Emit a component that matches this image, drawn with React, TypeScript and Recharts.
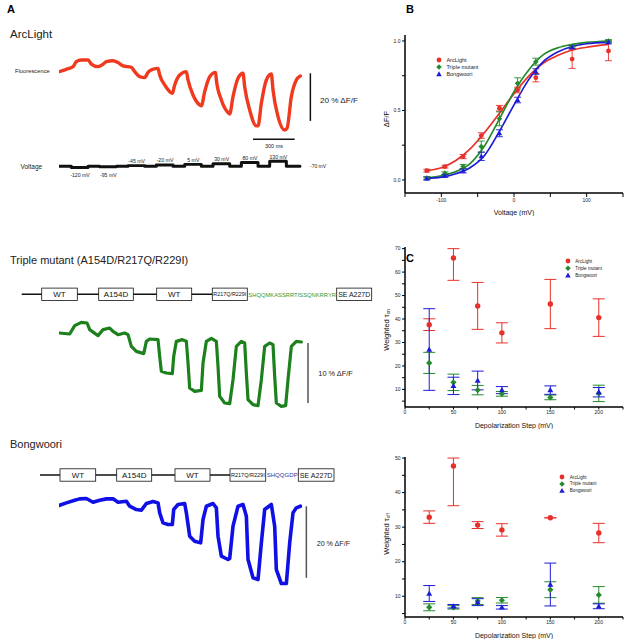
import React from 'react';
import {
  ComposedChart,
  ErrorBar,
  Label,
  Legend,
  Line,
  LineChart,
  ReferenceLine,
  Scatter,
  ScatterChart,
  XAxis,
  YAxis,
} from 'recharts';

const FONT = '"Liberation Sans", Arial, Helvetica, sans-serif';
const RED = '#e8302a';
const GREEN = '#258a2c';
const BLUE = '#1c1cd8';
const TRACE_RED = '#f03a1f';
const TRACE_GREEN = '#1c801c';
const TRACE_BLUE = '#0f0fe6';

// ---- A: optical traces (ms from sweep start, % dF/F relative to start)
const arcTraceMs = [0, 53, 101, 125, 161, 209, 233, 281, 317, 341, 389, 425, 461, 521, 545, 581, 617, 641, 677, 713, 725, 761, 797, 816, 833, 869, 917, 929, 965, 1013, 1025, 1049, 1085, 1128, 1133, 1169, 1217, 1229, 1253, 1289, 1325, 1337, 1373, 1421, 1433, 1457, 1493, 1529, 1541, 1577, 1625, 1642, 1673, 1709, 1738];
const arcTraceDff = [0, 1.0, 2.1, 4.2, 4.9, 4.9, 3.2, 2.1, 3.1, 4.2, 4.6, 3.8, 2.4, 1.8, 0, -2.1, -2.5, -0.3, 1.0, 1.4, -1.4, -5.6, -8.4, -9.1, -5.6, -1.4, 0, -3.5, -9.8, -14.0, -14.4, -8.4, -2.1, -0.3, -3.5, -11.9, -17.2, -17.8, -10.5, -2.8, -0.7, -6.3, -16.1, -22.8, -22.8, -13.3, -3.5, -1.0, -7.7, -18.9, -24.5, -23.8, -10.5, -3.5, -1.8];

const tripleTraceMs = [0, 77, 113, 161, 202, 221, 281, 317, 365, 389, 425, 473, 497, 521, 557, 610, 629, 653, 713, 725, 737, 773, 816, 826, 845, 888, 917, 929, 941, 977, 1025, 1037, 1061, 1097, 1133, 1145, 1157, 1193, 1229, 1253, 1277, 1313, 1337, 1349, 1361, 1397, 1433, 1457, 1481, 1517, 1541, 1553, 1565, 1601, 1632, 1649, 1673, 1709, 1745];
const tripleTraceDff = [0, -0.17, 1.22, 1.78, 1.67, 0.56, -0.44, 0.56, 0.83, 0.28, -0.28, 0, -0.28, -2.22, -3.06, -3.44, -1.39, -1.0, -1.11, -3.89, -6.39, -6.67, -6.78, -3.89, -1.39, -1.11, -1.39, -5.0, -9.17, -9.72, -9.56, -5.0, -1.39, -0.89, -1.39, -5.56, -10.56, -11.67, -11.78, -7.78, -2.22, -1.39, -1.67, -6.67, -11.11, -11.94, -12.11, -7.78, -2.22, -1.67, -1.94, -7.22, -11.67, -12.22, -12.11, -7.78, -2.22, -1.39, -1.5];

const bongTraceMs = [0, 53, 113, 149, 197, 245, 293, 341, 389, 425, 485, 509, 557, 593, 629, 677, 713, 725, 749, 785, 816, 826, 857, 905, 917, 941, 977, 1020, 1037, 1061, 1109, 1133, 1145, 1169, 1217, 1229, 1253, 1289, 1325, 1349, 1361, 1397, 1433, 1457, 1481, 1529, 1553, 1565, 1601, 1637, 1661, 1685, 1709, 1738];
const bongTraceDff = [0, 0.74, 1.49, 1.86, 1.96, 0.93, 1.49, 1.86, 1.86, 0.93, 1.21, -0.19, -1.12, -1.3, 0.56, 1.12, 0.74, -2.05, -4.84, -5.31, -5.31, -1.12, 0.28, 0.56, -2.05, -8.57, -9.96, -10.43, -3.91, -0.19, 0.56, -0.65, -8.57, -14.15, -15.08, -14.8, -5.77, -0.19, 0.28, -2.98, -15.08, -20.2, -20.67, -10.43, -1.12, 0.28, -5.77, -17.88, -21.79, -21.79, -10.43, -2.05, -0.65, -0.19];

// voltage protocol
const holdingMv = -70;
const stepMv = [-120, -95, -45, -20, 5, 30, 80, 130];
const stepStartMs = [89, 293, 497, 701, 905, 1109, 1313, 1517];
const stepWidthMs = 120;
const sweepEndMs = 1735;

// ---- B: steady-state dF/F vs voltage
const bVoltages = [-120, -95, -70, -45, -20, 5, 30, 80, 130];
const arcDff = [0.067, 0.096, 0.168, 0.319, 0.516, 0.647, 0.736, 0.87, 0.928];
const arcDffErr = [0.01, 0.01, 0.015, 0.02, 0.02, 0.02, 0.03, 0.067, 0.07];
const tripleDff = [0.014, 0.048, 0.096, 0.24, 0.44, 0.695, 0.851, 0.96, 1.0];
const tripleDffErr = [0.01, 0.01, 0.015, 0.04, 0.05, 0.04, 0.025, 0.01, 0.01];
const bongDff = [0.01, 0.03, 0.065, 0.17, 0.336, 0.575, 0.78, 0.955, 0.99];
const bongDffErr = [0.01, 0.01, 0.015, 0.03, 0.025, 0.02, 0.02, 0.01, 0.01];

const fitVoltages = [-120, -100, -80, -60, -40, -20, 0, 20, 40, 60, 80, 100, 130];
const arcFit = [0.067, 0.088, 0.14, 0.225, 0.345, 0.48, 0.62, 0.745, 0.84, 0.895, 0.935, 0.955, 0.975];
const tripleFit = [0.015, 0.03, 0.06, 0.12, 0.25, 0.44, 0.635, 0.79, 0.9, 0.95, 0.975, 0.99, 1.0];
const bongFit = [0.01, 0.02, 0.045, 0.09, 0.18, 0.35, 0.54, 0.72, 0.85, 0.92, 0.96, 0.98, 0.99];

// ---- C: weighted time constants vs depolarization step
const depolSteps = [25, 50, 75, 100, 150, 200];
const arcTauOn = [37.6, 66, 45.6, 34.1, 46.4, 40.6];
const arcTauOnErrLo = [2.5, 9.5, 10, 4.3, 10.5, 8];
const arcTauOnErrHi = [2.5, 4, 10, 4.3, 10.5, 8];
const tripleTauOn = [21.3, 13, 9.7, 8.1, 6.6, 8.3];
const tripleTauOnErr = [4.5, 3.5, 2, 1, 1, 3.5];
const bongTauOn = [27, 11.5, 13.8, 9.7, 9.7, 8.8];
const bongTauOnErr = [17.4, 3.7, 4, 1.5, 1.8, 2];

const arcTauOff = [32.9, 47.7, 30.6, 29.2, 32.7, 28.3];
const arcTauOffErrLo = [1.8, 11.5, 1, 1.8, 0, 2.8];
const arcTauOffErrHi = [1.8, 2.3, 1, 1.8, 0, 2.8];
const tripleTauOff = [6.8, 6.8, 8.6, 8.85, 11.9, 10.4];
const tripleTauOffErr = [1, 0.5, 1, 0.8, 2.3, 2.4];
const bongTauOff = [10.8, 7.1, 8.3, 6.8, 13.4, 7.1];
const bongTauOffErr = [2.3, 0.5, 1, 0.5, 6.2, 0.7];

const seriesNames = ['ArcLight', 'Triple mutant', 'Bongwoori'];
const constructDomains = ['WT', 'A154D', 'WT', 'R217Q/R229I'];
const tripleLinker = 'SHQQMKASSRRTISSQNKRRYR';
const bongLinker = 'SHQQGDP';
const fpDomain = 'SE A227D';

// ---- layout for the traces
const MS_PER_PX = 7.2;
const TRACE_LEFT = 59.3;
const T_DOMAIN: [number, number] = [0, 1830];
const TRACE_W = (T_DOMAIN[1] - T_DOMAIN[0]) / MS_PER_PX;
const msToX = (t: number) => TRACE_LEFT + t / MS_PER_PX;

const zip = (ts: number[], fs: number[]) => ts.map((t, i) => ({ t, f: fs[i] }));

const voltageData = (() => {
  const pts = [{ t: 0, f: holdingMv }];
  stepMv.forEach((v, i) => {
    pts.push({ t: stepStartMs[i], f: v });
    pts.push({ t: stepStartMs[i] + stepWidthMs, f: holdingMv });
  });
  pts.push({ t: sweepEndMs, f: holdingMv });
  return pts;
})();

function TraceChart({ data, color, y0, pxPerUnit, lo, hi, width = 3.2, curve = 'linear', bars = [] }: any) {
  const top = y0 - hi * pxPerUnit;
  const height = (hi - lo) * pxPerUnit;
  return (
    <div style={{ position: 'absolute', left: TRACE_LEFT, top }}>
      <LineChart width={TRACE_W} height={height} data={data} margin={{ top: 0, right: 0, bottom: 0, left: 0 }}>
        <XAxis type="number" dataKey="t" domain={T_DOMAIN} hide />
        <YAxis type="number" domain={[lo, hi]} hide />
        <Line
          dataKey="f"
          type={curve}
          stroke={color}
          strokeWidth={width}
          strokeLinejoin="round"
          strokeLinecap="round"
          dot={false}
          isAnimationActive={false}
        />
        {bars.map((b: any, i: number) => (
          <ReferenceLine key={i} segment={b.seg} stroke={b.color} strokeWidth={1.5} ifOverflow="visible" />
        ))}
      </LineChart>
    </div>
  );
}

// ---- markers
const circleShape = (color: string, r: number) => (p: any) => <circle cx={p.cx} cy={p.cy} r={r} fill={color} />;
const diamondShape = (color: string, r: number) => (p: any) => (
  <polygon points={`${p.cx},${p.cy - r} ${p.cx + r},${p.cy} ${p.cx},${p.cy + r} ${p.cx - r},${p.cy}`} fill={color} />
);
const triangleShape = (color: string, r: number) => (p: any) => (
  <polygon
    points={`${p.cx},${p.cy - r} ${p.cx + r * 0.95},${p.cy + r * 0.7} ${p.cx - r * 0.95},${p.cy + r * 0.7}`}
    fill={color}
  />
);

function LegendSvg({ size, gap, dx, r }: any) {
  const shapes = [circleShape(RED, r), diamondShape(GREEN, r * 1.15), triangleShape(BLUE, r * 1.2)];
  return (
    <svg width={60} height={gap * 3 + 2} style={{ overflow: 'visible' }}>
      {seriesNames.map((name, i) => (
        <g key={name}>
          {shapes[i]({ cx: 4, cy: 4 + i * gap })}
          <text x={4 + dx} y={4 + i * gap} dominantBaseline="central" fontSize={size} fontFamily={FONT} fill="#222">
            {name}
          </text>
        </g>
      ))}
    </svg>
  );
}

const xTitle = (text: string) => (props: any) => {
  const { x, y, width, height } = props.viewBox;
  return (
    <text x={x + width / 2} y={y + height - 1.5} textAnchor="middle" fontSize={7} fontFamily={FONT} fill="#111">
      {text}
    </text>
  );
};

const yTitle = (text: string, sub: string, dy: number) => (props: any) => {
  const { x, y, height } = props.viewBox;
  const cx = x + 21.5;
  const cy = y + height / 2 + dy;
  return (
    <text
      transform={`translate(${cx},${cy}) rotate(-90)`}
      textAnchor="middle"
      dominantBaseline="central"
      fontSize={7.5}
      fontFamily={FONT}
      fill="#111"
    >
      {text}
      {sub ? (
        <tspan fontSize={4.5} dy={1.8}>
          {sub}
        </tspan>
      ) : null}
    </text>
  );
};

const axisProps = {
  axisLine: { stroke: '#000', strokeWidth: 1.5 },
  tickLine: { stroke: '#000', strokeWidth: 1 },
  tick: { fontSize: 5, fill: '#222', fontFamily: FONT },
};

const bPoints = (vals: number[], errs: number[]) => bVoltages.map((v, i) => ({ v, f: vals[i], e: errs[i] }));
const bFit = (vals: number[]) => fitVoltages.map((v, i) => ({ v, f: vals[i] }));

function PanelB() {
  return (
    <div style={{ position: 'absolute', left: 360, top: 20 }}>
      <ComposedChart width={264} height={196} margin={{ top: 15, right: 1, bottom: 0, left: 5 }}>
        <XAxis
          type="number"
          dataKey="v"
          domain={[-150, 150]}
          ticks={[-150, -100, -50, 0, 50, 100, 150]}
          tickFormatter={(v: number) => (v % 100 === 0 ? String(v) : '')}
          height={23}
          tickSize={4}
          tickMargin={1.5}
          {...axisProps}
        >
          <Label content={xTitle('Voltage (mV)')} />
        </XAxis>
        <YAxis
          type="number"
          dataKey="f"
          domain={[-0.094, 1.043]}
          ticks={[0, 0.25, 0.5, 0.75, 1]}
          tickFormatter={(v: number) => (v === 0 || v === 0.5 || v === 1 ? v.toFixed(1) : '')}
          width={40}
          tickSize={3}
          tickMargin={1.5}
          {...axisProps}
        >
          <Label content={yTitle('ΔF/F', '', 5)} />
        </YAxis>
        <Line data={bFit(arcFit)} dataKey="f" type="monotone" stroke={RED} strokeWidth={1.7} dot={false} isAnimationActive={false} />
        <Line data={bFit(tripleFit)} dataKey="f" type="monotone" stroke={GREEN} strokeWidth={1.7} dot={false} isAnimationActive={false} />
        <Line data={bFit(bongFit)} dataKey="f" type="monotone" stroke={BLUE} strokeWidth={1.7} dot={false} isAnimationActive={false} />
        <Scatter data={bPoints(arcDff, arcDffErr)} dataKey="f" fill={RED} shape={circleShape(RED, 2.4)} isAnimationActive={false}>
          <ErrorBar dataKey="e" direction="y" width={3.5} stroke={RED} strokeWidth={0.9} />
        </Scatter>
        <Scatter data={bPoints(tripleDff, tripleDffErr)} dataKey="f" fill={GREEN} shape={diamondShape(GREEN, 2.8)} isAnimationActive={false}>
          <ErrorBar dataKey="e" direction="y" width={3.5} stroke={GREEN} strokeWidth={0.9} />
        </Scatter>
        <Scatter data={bPoints(bongDff, bongDffErr)} dataKey="f" fill={BLUE} shape={triangleShape(BLUE, 2.8)} isAnimationActive={false}>
          <ErrorBar dataKey="e" direction="y" width={3.5} stroke={BLUE} strokeWidth={0.9} />
        </Scatter>
        <Legend
          layout="vertical"
          align="center"
          verticalAlign="middle"
          wrapperStyle={{ left: 75.3, top: 36, width: 60, height: 24 }}
          content={() => <LegendSvg size={5.5} gap={7.1} dx={7.4} r={2.4} />}
        />
      </ComposedChart>
    </div>
  );
}

const cPoints = (vals: number[], lo: number[], hi?: number[]) =>
  depolSteps.map((x, i) => ({ x, y: vals[i], e: hi ? [lo[i], hi[i]] : lo[i] }));

function TauChart({ top, yDomain, yTicks, sub, titleDy, legend, arc, triple, bong }: any) {
  return (
    <div style={{ position: 'absolute', left: 360, top }}>
      <ScatterChart width={264} height={197} margin={{ top: 15, right: 1, bottom: 0, left: 5 }}>
        <XAxis
          type="number"
          dataKey="x"
          domain={[0, 225]}
          ticks={[0, 25, 50, 75, 100, 125, 150, 175, 200, 225]}
          tickFormatter={(v: number) => (v % 50 === 0 && v <= 200 ? String(v) : '')}
          height={22}
          tickSize={2.5}
          tickMargin={1}
          {...axisProps}
        >
          <Label content={xTitle('Depolarization Step (mV)')} />
        </XAxis>
        <YAxis
          type="number"
          dataKey="y"
          domain={yDomain}
          ticks={yTicks}
          tickFormatter={(v: number) => (v % 10 === 0 ? String(v) : '')}
          width={40}
          tickSize={3}
          tickMargin={1.5}
          {...axisProps}
        >
          <Label content={yTitle('Weighted τ', sub, titleDy)} />
        </YAxis>
        <Scatter data={arc} fill={RED} shape={circleShape(RED, 2.7)} isAnimationActive={false}>
          <ErrorBar dataKey="e" direction="y" width={6} stroke={RED} strokeWidth={1} />
        </Scatter>
        <Scatter data={triple} fill={GREEN} shape={diamondShape(GREEN, 3.1)} isAnimationActive={false}>
          <ErrorBar dataKey="e" direction="y" width={6} stroke={GREEN} strokeWidth={1} />
        </Scatter>
        <Scatter data={bong} fill={BLUE} shape={triangleShape(BLUE, 3.1)} isAnimationActive={false}>
          <ErrorBar dataKey="e" direction="y" width={6} stroke={BLUE} strokeWidth={1} />
        </Scatter>
        <Legend
          layout="vertical"
          align="center"
          verticalAlign="middle"
          wrapperStyle={{ left: legend.left, top: legend.top, width: 60, height: 24 }}
          content={() => <LegendSvg size={4.6} gap={legend.gap} dx={legend.dx} r={2.4} />}
        />
      </ScatterChart>
    </div>
  );
}

function Construct({ lineY, lineX0, boxes, linker, linkerColor, linkerX, fpBox }: any) {
  const h = 12.4;
  const by = lineY - h / 2;
  return (
    <g fontFamily={FONT}>
      <line x1={lineX0} x2={boxes[3][0]} y1={lineY} y2={lineY} stroke="#111" strokeWidth={1.5} />
      {constructDomains.map((name, i) => {
        const [x1, x2] = boxes[i];
        const small = name.length > 6;
        return (
          <g key={i}>
            <rect x={x1} y={by} width={x2 - x1} height={h} fill="#fff" stroke="#111" strokeWidth={0.8} />
            <text
              x={(x1 + x2) / 2}
              y={lineY + (small ? 2 : 2.9)}
              textAnchor="middle"
              fontSize={small ? 5.4 : 8}
              fill="#111"
              textLength={small ? x2 - x1 - 2 : undefined}
              lengthAdjust="spacingAndGlyphs"
            >
              {name}
            </text>
          </g>
        );
      })}
      <text
        x={linkerX[0]}
        y={lineY + 2.2}
        fontSize={6}
        fill={linkerColor}
        textLength={linkerX[1] - linkerX[0]}
        lengthAdjust="spacingAndGlyphs"
      >
        {linker}
      </text>
      <rect x={fpBox[0]} y={by} width={fpBox[1] - fpBox[0]} height={h} fill="#fff" stroke="#111" strokeWidth={0.8} />
      <text
        x={(fpBox[0] + fpBox[1]) / 2}
        y={lineY + 2.5}
        textAnchor="middle"
        fontSize={7}
        fill="#111"
        textLength={fpBox[1] - fpBox[0] - 3}
        lengthAdjust="spacingAndGlyphs"
      >
        {fpDomain}
      </text>
    </g>
  );
}

function Overlay() {
  const vy = (v: number) => 166 - (v - holdingMv) * 0.025;
  return (
    <svg width={624} height={640} style={{ position: 'absolute', left: 0, top: 0 }} fontFamily={FONT}>
      <text x={7} y={13} fontSize={11} fontWeight="bold">A</text>
      <text x={406} y={13} fontSize={11} fontWeight="bold">B</text>
      <text x={406} y={262} fontSize={11} fontWeight="bold">C</text>

      <text x={10} y={37.5} fontSize={11.5} fill="#222">ArcLight</text>
      <text x={15} y={73} fontSize={5.8} fill="#222">Fluorescence</text>
      <text x={20.5} y={168.5} fontSize={6.5} fill="#222">Voltage</text>
      <text x={310} y={168} fontSize={5} fill="#222">-70 mV</text>
      {stepMv.map((v, i) => {
        const x = msToX(stepStartMs[i] + stepWidthMs / 2);
        const below = v < holdingMv;
        return (
          <text key={v} x={x} y={below ? 177 : vy(v) - 2.5} textAnchor="middle" fontSize={5.2} fill="#222">
            {`${v} mV`}
          </text>
        );
      })}
      <text x={320} y={102.5} fontSize={8} fill="#222" textLength={38} lengthAdjust="spacingAndGlyphs">20 % ΔF/F</text>
      <text x={274} y={148} textAnchor="middle" fontSize={5.5} fill="#222">300 ms</text>

      <text x={10} y={264} fontSize={11} fill="#222">Triple mutant (A154D/R217Q/R229I)</text>
      <Construct
        lineY={294.3}
        lineX0={21.7}
        boxes={[[41.7, 77.3], [98.7, 133.3], [156.7, 191.7], [212.3, 247.3]]}
        linker={tripleLinker}
        linkerColor="#2f9a3a"
        linkerX={[248.3, 336]}
        fpBox={[336.7, 371.7]}
      />
      <text x={318.3} y={376} fontSize={8} fill="#222" textLength={34.4} lengthAdjust="spacingAndGlyphs">10 % ΔF/F</text>

      <text x={10} y={448} fontSize={11} fill="#222">Bongwoori</text>
      <Construct
        lineY={475}
        lineX0={40}
        boxes={[[60, 95.7], [116.7, 151.7], [175, 210], [230, 265.7]]}
        linker={bongLinker}
        linkerColor="#35359a"
        linkerX={[266.7, 297.7]}
        fpBox={[298.3, 334]}
      />
      <text x={316.7} y={546} fontSize={8} fill="#222" textLength={33.3} lengthAdjust="spacingAndGlyphs">20 % ΔF/F</text>
    </svg>
  );
}

export default function App() {
  return (
    <div style={{ position: 'absolute', left: 0, top: 0, width: 624, height: 640, background: '#fff', overflow: 'hidden' }}>
      <Overlay />
      <TraceChart
        data={zip(arcTraceMs, arcTraceDff)}
        color={TRACE_RED}
        y0={71.7}
        pxPerUnit={2.38}
        lo={-30}
        hi={7}
        width={3.4}
        curve="monotone"
        bars={[
          { seg: [{ x: 1810, y: -0.7 }, { x: 1810, y: -20.7 }], color: '#111' },
          { seg: [{ x: 1397, y: -28.4 }, { x: 1697, y: -28.4 }], color: '#111' },
        ]}
      />
      <TraceChart data={voltageData} color="#111" y0={166 + holdingMv * 0.025} pxPerUnit={0.025} lo={-260} hi={260} width={3} curve="stepAfter" />
      <TraceChart
        data={zip(tripleTraceMs, tripleTraceDff)}
        color={TRACE_GREEN}
        y0={333.3}
        pxPerUnit={6}
        lo={-13.5}
        hi={3}
        width={3.2}
        bars={[{ seg: [{ x: 1793, y: -1.67 }, { x: 1793, y: -11.67 }], color: '#555' }]}
      />
      <TraceChart
        data={zip(bongTraceMs, bongTraceDff)}
        color={TRACE_BLUE}
        y0={506}
        pxPerUnit={3.58}
        lo={-23.5}
        hi={3.5}
        width={3.6}
        bars={[{ seg: [{ x: 1781, y: -0.2 }, { x: 1781, y: -20.2 }], color: '#555' }]}
      />
      <PanelB />
      <TauChart
        top={232}
        yDomain={[2.5, 70.7]}
        yTicks={[5, 10, 15, 20, 25, 30, 35, 40, 45, 50, 55, 60, 65, 70]}
        sub="on"
        titleDy={3}
        legend={{ left: 203.7, top: 25, gap: 7.2, dx: 7.3 }}
        arc={cPoints(arcTauOn, arcTauOnErrLo, arcTauOnErrHi)}
        triple={cPoints(tripleTauOn, tripleTauOnErr)}
        bong={cPoints(bongTauOn, bongTauOnErr)}
      />
      <TauChart
        top={442.3}
        yDomain={[4, 50.3]}
        yTicks={[5, 10, 15, 20, 25, 30, 35, 40, 45, 50]}
        sub="off"
        titleDy={-3}
        legend={{ left: 197.7, top: 31, gap: 6.9, dx: 7.8 }}
        arc={cPoints(arcTauOff, arcTauOffErrLo, arcTauOffErrHi)}
        triple={cPoints(tripleTauOff, tripleTauOffErr)}
        bong={cPoints(bongTauOff, bongTauOffErr)}
      />
    </div>
  );
}
